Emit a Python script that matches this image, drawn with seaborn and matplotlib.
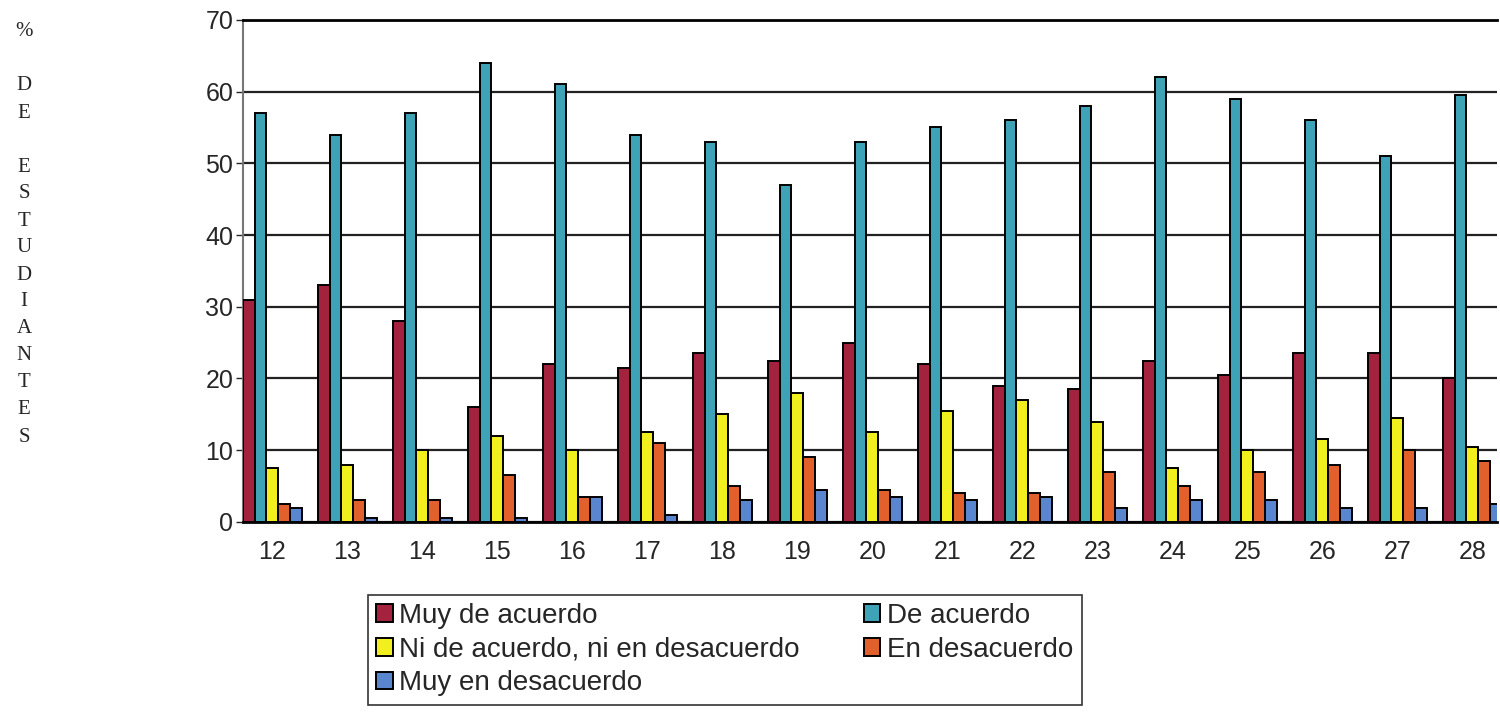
import numpy as np
import pandas as pd
import matplotlib
import matplotlib.pyplot as plt
import seaborn as sns

matplotlib.use('Agg')

sns.set_style("white")
plt.rcParams['font.family'] = ['Liberation Sans', 'DejaVu Sans']

# items of the questionnaire (x axis)
items = ['12', '13', '14', '15', '16', '17', '18', '19', '20',
         '21', '22', '23', '24', '25', '26', '27', '28']

series = ['Muy de acuerdo', 'De acuerdo', 'Ni de acuerdo, ni en desacuerdo',
          'En desacuerdo', 'Muy en desacuerdo']

# % de estudiantes
muy_de_acuerdo = [31, 33, 28, 16, 22, 21.5, 23.5, 22.5, 25, 22, 19, 18.5, 22.5, 20.5, 23.5, 23.5, 20]
de_acuerdo = [57, 54, 57, 64, 61, 54, 53, 47, 53, 55, 56, 58, 62, 59, 56, 51, 59.5]
ni_ni = [7.5, 8, 10, 12, 10, 12.5, 15, 18, 12.5, 15.5, 17, 14, 7.5, 10, 11.5, 14.5, 10.5]
en_desacuerdo = [2.5, 3, 3, 6.5, 3.5, 11, 5, 9, 4.5, 4, 4, 7, 5, 7, 8, 10, 8.5]
muy_en_desacuerdo = [2, 0.5, 0.5, 0.5, 3.5, 1, 3, 4.5, 3.5, 3, 3.5, 2, 3, 3, 2, 2, 2.5]

colors = ['#a3223e', '#3fa3b8', '#f2ef1e', '#e2602c', '#5a86d0']

df = pd.DataFrame({
    'item': items * 5,
    'serie': np.repeat(series, len(items)),
    'pct': muy_de_acuerdo + de_acuerdo + ni_ni + en_desacuerdo + muy_en_desacuerdo,
})

fig = plt.figure(figsize=(15, 7.12), dpi=100)
ax = fig.add_axes([0.162, 0.267, 0.836, 0.705])

sns.barplot(data=df, x='item', y='pct', hue='serie', hue_order=series,
            palette=colors, saturation=1, width=0.78, edgecolor='black',
            linewidth=1.4, ax=ax, zorder=3)

ax.set_ylim(0, 70)
ax.set_yticks(np.arange(0, 71, 10))
ax.set_xlim(-0.39, 16.33)
ax.yaxis.grid(True, color='#222222', linewidth=1.6, zorder=0)
ax.set_axisbelow(True)
ax.tick_params(axis='y', labelsize=18, length=5, width=1, direction='out', left=True, pad=2)
ax.tick_params(axis='x', labelsize=18, length=0, pad=13)
ax.set_xlabel('')
ax.set_ylabel('')

for side in ['top', 'bottom']:
    ax.spines[side].set_color('black')
    ax.spines[side].set_linewidth(2)
ax.spines['left'].set_color('#777777')
ax.spines['left'].set_linewidth(1.5)
ax.spines['right'].set_visible(False)

# legend: two columns, filled row by row, box below the plot
handles, labels = ax.get_legend_handles_labels()
ax.get_legend().remove()
order = [0, 2, 4, 1, 3]
leg = fig.legend([handles[i] for i in order], [labels[i] for i in order],
                 loc='upper left', bbox_to_anchor=(0.245, 0.165),
                 ncol=2, fontsize=20, frameon=True, fancybox=False,
                 edgecolor='black', handlelength=0.6, handleheight=0.6,
                 handletextpad=0.25, labelspacing=0.28, borderpad=0.3,
                 columnspacing=2.3, borderaxespad=0)
leg.get_frame().set_linewidth(1.2)

# stacked vertical y label
letters = ['%', '', 'D', 'E', '', 'E', 'S', 'T', 'U', 'D', 'I', 'A', 'N', 'T', 'E', 'S']
for i, ch in enumerate(letters):
    fig.text(0.016, 1 - (32 + i * 27) / 712, ch, ha='center', va='center',
             fontsize=15, family=['Liberation Serif', 'DejaVu Serif'])

fig.savefig('out.png', dpi=100, facecolor='white')
